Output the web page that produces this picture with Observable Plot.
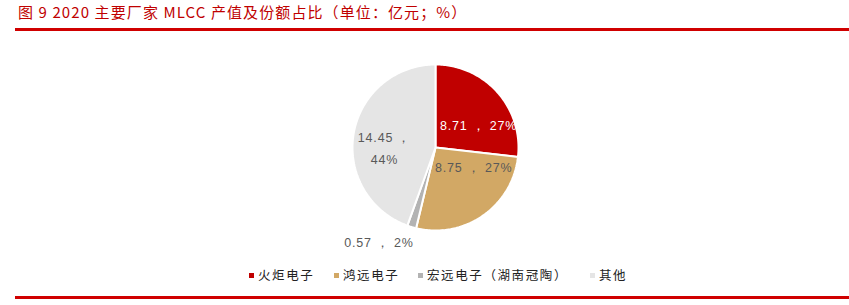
<!DOCTYPE html>
<html><head><meta charset="utf-8">
<script src="https://cdn.jsdelivr.net/npm/d3@7"></script>
<script src="https://cdn.jsdelivr.net/npm/@observablehq/plot@0.6"></script>
<style>
body{margin:0;background:#fff;width:849px;height:305px;position:relative;overflow:hidden;font-family:"Noto Sans CJK SC",sans-serif;}
#title{position:absolute;left:18px;top:1px;font-size:15px;color:#c00000;letter-spacing:1.1px;white-space:nowrap;}
.rule{position:absolute;left:15px;right:0;height:3px;background:#d00000;}
#chart{position:absolute;left:0;top:35px;}
#chart text{letter-spacing:0.8px;}
#legend{position:absolute;top:265px;left:0;width:849px;font-size:12.5px;color:#222;white-space:nowrap;}
.item{position:absolute;}
.sw{display:inline-block;width:5px;height:5px;margin-right:4px;vertical-align:middle;position:relative;top:-1px;}
.lab{letter-spacing:1.6px;}
.lab.wide{letter-spacing:1.4px;}
</style></head>
<body>
<div id="title">图 9 2020 主要厂家 MLCC 产值及份额占比（单位：亿元；%）</div>
<div class="rule" style="top:28px"></div>
<div id="chart"></div>
<div id="legend"></div>
<div class="rule" style="top:296px"></div>
<script>
const categories = ["火炬电子","鸿远电子","宏远电子（湖南冠陶）","其他"];
const values = [8.71, 8.75, 0.57, 14.45];
const percents = ["27%","27%","2%","44%"];
const colors = ["#c00000","#d2a865","#b3b3b3","#e5e5e5"];

const W = 849, H = 225, cx = 435, cy = 112, R = 83;
const pie = d3.pie().sort(null).value(d => d.value)(categories.map((c,i)=>({cat:c,value:values[i],pct:percents[i]})));
const pts = [];
pie.forEach(a => {
  const n = Math.max(4, Math.ceil((a.endAngle - a.startAngle) / (Math.PI/180)));
  pts.push({cat:a.data.cat, x:0, y:0});
  for (let k=0;k<=n;k++){
    const t = a.startAngle + (a.endAngle-a.startAngle)*k/n;
    pts.push({cat:a.data.cat, x:Math.sin(t), y:Math.cos(t)});
  }
  pts.push({cat:a.data.cat, x:0, y:0});
});
const labels = pie.map(a => {
  const m = (a.startAngle + a.endAngle)/2;
  return {cat:a.data.cat, value:a.data.value, pct:a.data.pct, mx:Math.sin(m), my:Math.cos(m)};
});
const fmt = d => `${d.value.toFixed(2)} ， ${d.pct}`;
const txt = {fontFamily:"'Liberation Sans',Arial,sans-serif", fontSize:12.5, fill:"#595959"};
const plot = Plot.plot({
  width: W, height: H, margin: 0,
  x: {domain:[-cx/R, (W-cx)/R], axis:null},
  y: {domain:[-(H-cy)/R, cy/R], axis:null},
  color: {domain: categories, range: colors},
  marks: [
    Plot.line(pts, {x:"x", y:"y", z:"cat", fill:"cat", stroke:"white", strokeWidth:2, strokeLinejoin:"miter"}),
    Plot.text(labels.filter(d=>d.cat==="火炬电子"), {x:d=>d.mx*0.55, y:d=>d.my*0.55, text:fmt, ...txt, fill:"white", dx:9, dy:9}),
    Plot.text(labels.filter(d=>d.cat==="鸿远电子"), {x:d=>d.mx*0.55, y:d=>d.my*0.55, text:fmt, ...txt, dx:12, dy:-17}),
    Plot.text(labels.filter(d=>d.cat==="宏远电子（湖南冠陶）"), {x:d=>d.mx*1.2, y:d=>d.my*1.2, text:fmt, ...txt, dx:-28, dy:0}),
    Plot.text(labels.filter(d=>d.cat==="其他"), {x:d=>d.mx*0.55, y:d=>d.my*0.55, text:d=>`${d.value.toFixed(2)} ，\n${d.pct}`, ...txt, lineHeight:1.75, dx:-6, dy:6})
  ]
});
document.getElementById("chart").appendChild(plot);

const legendX = [249, 334, 418, 590];
const lg = document.getElementById("legend");
categories.forEach((c,i)=>{
  const it = document.createElement("div");
  it.className="item"; it.style.left = legendX[i]+"px";
  it.innerHTML = `<span class="sw" style="background:${colors[i]}"></span><span class="lab">${c}</span>`;
  lg.appendChild(it);
});
</script>
</body></html>
